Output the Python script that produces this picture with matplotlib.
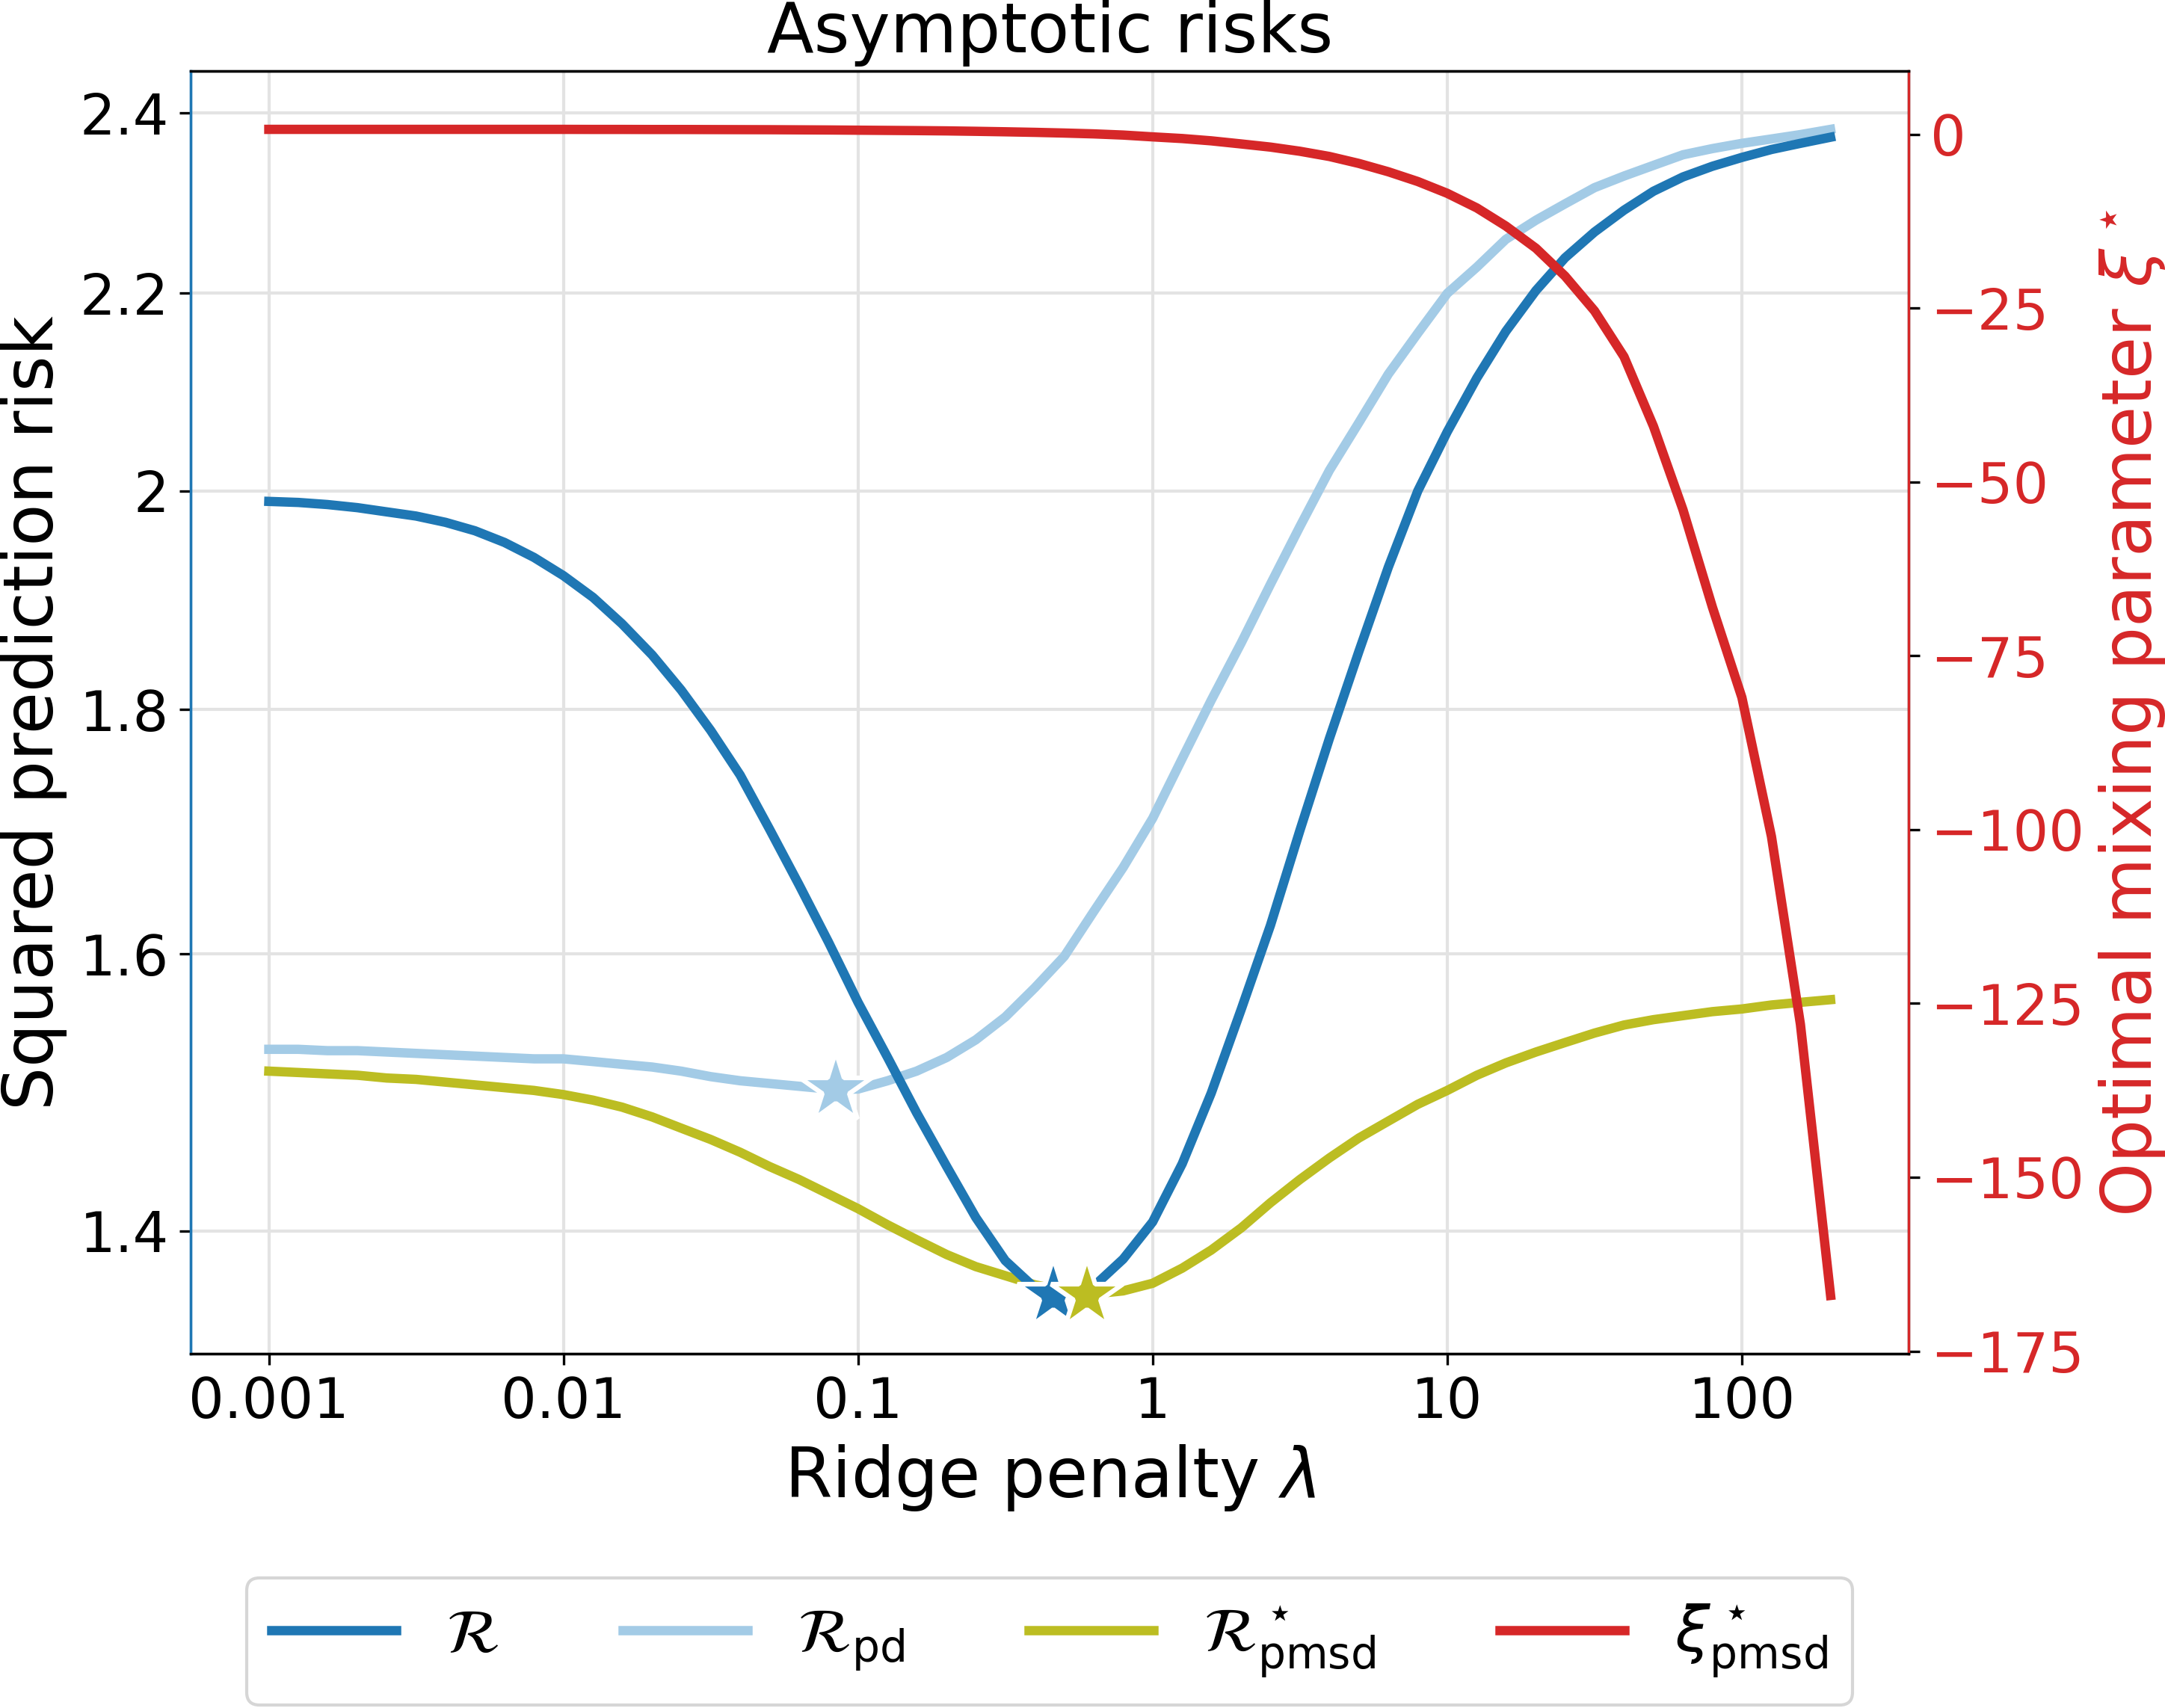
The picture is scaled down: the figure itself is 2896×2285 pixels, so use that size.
import matplotlib
matplotlib.use("Agg")
import matplotlib.pyplot as plt
from matplotlib.ticker import NullLocator, NullFormatter

# ---------------- data ----------------
lam = [0.001, 0.00126, 0.00158, 0.002, 0.00251, 0.00316, 0.00398, 0.00501, 0.00631, 0.00794,
       0.01, 0.0126, 0.0158, 0.02, 0.0251, 0.0316, 0.0398, 0.0501, 0.0631, 0.0794,
       0.1, 0.126, 0.158, 0.2, 0.251, 0.316, 0.398, 0.501, 0.631, 0.794,
       1.0, 1.26, 1.58, 2.0, 2.51, 3.16, 3.98, 5.01, 6.31, 7.94,
       10.0, 12.6, 15.8, 20.0, 25.1, 31.6, 39.8, 50.1, 63.1, 79.4,
       100.0, 126.0, 158.0, 200.0]

risk_R = [1.990, 1.989, 1.987, 1.984, 1.980, 1.976, 1.970, 1.962, 1.951, 1.937,
          1.920, 1.900, 1.876, 1.848, 1.817, 1.782, 1.744, 1.699, 1.654, 1.609,
          1.563, 1.522, 1.482, 1.444, 1.409, 1.380, 1.362, 1.357, 1.363, 1.381,
          1.406, 1.446, 1.496, 1.558, 1.622, 1.698, 1.775, 1.851, 1.928, 2.000,
          2.058, 2.112, 2.160, 2.203, 2.238, 2.266, 2.290, 2.311, 2.327, 2.339,
          2.349, 2.358, 2.365, 2.372]

risk_pd = [1.528, 1.528, 1.527, 1.527, 1.526, 1.525, 1.524, 1.523, 1.522, 1.521,
           1.521, 1.519, 1.517, 1.515, 1.512, 1.508, 1.505, 1.503, 1.501, 1.499,
           1.499, 1.505, 1.512, 1.522, 1.535, 1.552, 1.574, 1.598, 1.633, 1.668,
           1.708, 1.758, 1.808, 1.859, 1.912, 1.966, 2.020, 2.067, 2.116, 2.158,
           2.200, 2.228, 2.258, 2.279, 2.297, 2.315, 2.328, 2.340, 2.352, 2.359,
           2.365, 2.370, 2.375, 2.381]

risk_pmsd = [1.512, 1.511, 1.510, 1.509, 1.507, 1.506, 1.504, 1.502, 1.500, 1.498,
             1.495, 1.491, 1.486, 1.479, 1.471, 1.463, 1.454, 1.444, 1.435, 1.425,
             1.415, 1.404, 1.394, 1.384, 1.376, 1.370, 1.364, 1.360, 1.358, 1.360,
             1.365, 1.375, 1.387, 1.402, 1.419, 1.435, 1.450, 1.464, 1.476, 1.488,
             1.498, 1.509, 1.518, 1.526, 1.533, 1.540, 1.546, 1.550, 1.553, 1.556,
             1.558, 1.561, 1.563, 1.565]

xi_pmsd = [0.70, 0.70, 0.70, 0.70, 0.70, 0.70, 0.70, 0.70, 0.70, 0.70,
           0.70, 0.69, 0.69, 0.68, 0.68, 0.67, 0.66, 0.65, 0.63, 0.61,
           0.58, 0.55, 0.52, 0.48, 0.42, 0.35, 0.27, 0.17, 0.05, -0.12,
           -0.38, -0.62, -0.95, -1.40, -1.85, -2.45, -3.20, -4.20, -5.40, -6.80,
           -8.50, -10.6, -13.2, -16.4, -20.4, -25.4, -32.0, -42.0, -54.0, -68.0,
           -81.0, -101.0, -128.0, -167.0]

# optimum markers: (lambda, risk) for R, R_pd, R*_pmsd
star_lam = [0.46, 0.084, 0.60]
star_risk = [1.357, 1.499, 1.357]

xticks = [0.001, 0.01, 0.1, 1, 10, 100]
xticklabels = ["0.001", "0.01", "0.1", "1", "10", "100"]
yticks = [1.4, 1.6, 1.8, 2.0, 2.2, 2.4]
yticklabels = ["1.4", "1.6", "1.8", "2", "2.2", "2.4"]
xi_ticks = [0, -25, -50, -75, -100, -125, -150, -175]

# ---------------- styling ----------------
C_R = "#1f77b4"
C_PD = "#a3cbe6"
C_PMSD = "#bcbd22"
C_XI = "#d62728"
LW = 3
FS_LABEL = 22
FS_TICK = 18

fig = plt.figure(figsize=(2896 / 300, 2285 / 300), dpi=300)
ax = fig.add_axes([0.0881, 0.2074, 0.7935, 0.7510])

l_pd, = ax.plot(lam, risk_pd, color=C_PD, lw=LW, label=r"$\mathcal{R}_{\rm pd}$")
l_pmsd, = ax.plot(lam, risk_pmsd, color=C_PMSD, lw=LW,
                  label=r"$\mathcal{R}^\star_{\rm pmsd}$")
l_R, = ax.plot(lam, risk_R, color=C_R, lw=LW, label=r"$\mathcal{R}$")

star_cols = [C_R, C_PD, C_PMSD]
for lx, ly, c in zip(star_lam, star_risk, star_cols):
    ax.plot([lx], [ly], ls="none", marker="*", ms=24, color=c,
            mec="white", mew=1.5, zorder=4)

ax.set_xscale("log")
ax.set_yscale("log")
ax.set_xticks(xticks)
ax.set_xticklabels(xticklabels)
ax.set_yticks(yticks)
ax.set_yticklabels(yticklabels)
ax.xaxis.set_minor_locator(NullLocator())
ax.xaxis.set_minor_formatter(NullFormatter())
ax.yaxis.set_minor_locator(NullLocator())
ax.yaxis.set_minor_formatter(NullFormatter())
ax.tick_params(axis="both", labelsize=FS_TICK)
ax.grid(True, color="#e3e3e3", lw=1.0)
ax.spines["left"].set_color(C_R)

ax.set_title("Asymptotic risks", fontsize=FS_LABEL)
ax.set_xlabel(r"Ridge penalty $\lambda$", fontsize=FS_LABEL)
ax.set_ylabel("Squared prediction risk", fontsize=FS_LABEL)

ax2 = ax.twinx()
l_xi, = ax2.plot(lam, xi_pmsd, color=C_XI, lw=LW, label=r"$\xi^\star_{\rm pmsd}$")
ax2.set_yticks(xi_ticks)
ax2.yaxis.set_minor_locator(NullLocator())
ax2.tick_params(axis="y", labelsize=FS_TICK, labelcolor=C_XI)
ax2.set_ylabel(r"Optimal mixing parameter $\xi^\star$", fontsize=FS_LABEL, color=C_XI)
ax2.spines["right"].set_color(C_XI)
ax2.spines["left"].set_color(C_R)

fig.legend(handles=[l_R, l_pd, l_pmsd, l_xi], loc="upper center",
           bbox_to_anchor=(1404 / 2896, 1 - 2111 / 2285), ncol=4,
           fontsize=20, frameon=True, borderaxespad=0)

fig.savefig("out.png", dpi=300)
